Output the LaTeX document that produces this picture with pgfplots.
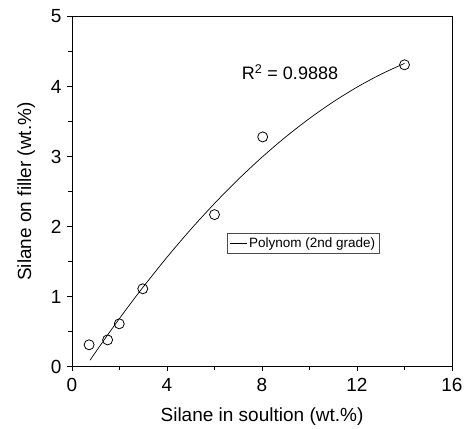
\documentclass[border=0pt]{standalone}
\usepackage{fontspec}
\setmainfont{Liberation Sans}
\usepackage{pgfplots}
\pgfplotsset{compat=1.18}
\begin{document}
\begin{tikzpicture}
\begin{axis}[
  scale only axis,
  width=380pt, height=350pt,
  xmin=0, xmax=16, ymin=0, ymax=5,
  xtick={0,4,8,12,16}, ytick={0,1,2,3,4,5},
  minor x tick num=1, minor y tick num=1,
  tick pos=left, tick align=outside,
  major tick length=5pt, minor tick length=4pt,
  axis line style={line width=0.8pt},
  every tick/.style={black, line width=0.8pt},
  /pgf/number format/assume math mode=true,
  tick label style={font=\fontsize{19}{21}\selectfont},
  xticklabel style={yshift=-3pt},
  yticklabel style={xshift=-2pt},
  label style={font=\fontsize{19}{21}\selectfont},
  xlabel={Silane in soultion (wt.\%)},
  ylabel={Silane on filler (wt.\%)},
  xlabel style={yshift=-9pt},
  ylabel style={yshift=9pt},
  legend style={at={(axis cs:6.53,1.9)}, anchor=north west, draw=black!70,
    line width=0.6pt, font=\fontsize{13.5}{15}\selectfont, inner sep=2pt,
    legend cell align=left},
  legend image post style={line width=0.6pt},
]
\addplot[black, line width=0.7pt, smooth] coordinates {
(0.76,0.09) (1,0.2086) (1.5,0.4508) (2,0.6863) (2.5,0.9150) (3,1.1371)
(4,1.5612) (5,1.9586) (6,2.3290) (7,2.6729) (8,2.9900) (9,3.2802)
(10,3.5437) (11,3.7804) (12,3.9904) (13,4.1735) (14,4.3299)};
\addlegendentry{Polynom (2nd grade)}
\addplot[only marks, mark=o, mark size=5pt, mark options={line width=0.8pt, black}, forget plot] coordinates {
(0.72,0.31) (1.5,0.38) (1.99,0.61) (2.98,1.11) (6.0,2.17) (8.03,3.28) (14.0,4.31)};
\node[font=\fontsize{18}{20}\selectfont] at (axis cs:9.18,4.2) {R$^{\mathrm{2}}$ = 0.9888};
\end{axis}
\pgfresetboundingbox
\path (current axis.south west) +(-72pt,-62pt);
\path (current axis.north east) +(15pt,16.5pt);
\end{tikzpicture}
\end{document}
